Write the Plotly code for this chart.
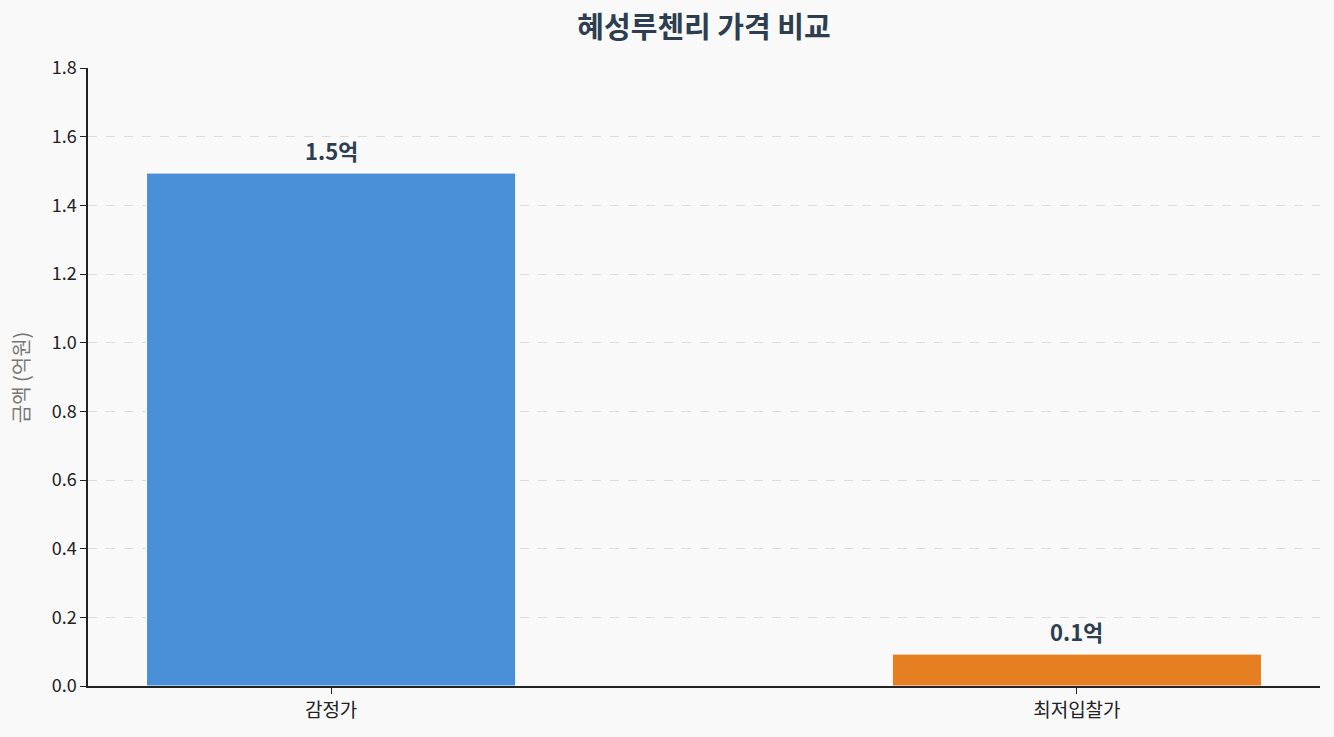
import plotly.graph_objects as go

categories = ["감정가", "최저입찰가"]
values = [1.494, 0.093]
labels = ["1.5억", "0.1억"]
colors = ["#4a90d9", "#e67e22"]
yticks = [0.0, 0.2, 0.4, 0.6, 0.8, 1.0, 1.2, 1.4, 1.6, 1.8]
y_title = "금액 (억원)"

FONT = "Noto Sans CJK KR"
BG = "#f9f9f9"

fig = go.Figure()
fig.add_trace(go.Bar(
    x=[0, 1], y=values, width=0.495,
    marker=dict(color=colors, line=dict(color="white", width=1)),
    hoverinfo="skip", showlegend=False,
))
for i, (v, t) in enumerate(zip(values, labels)):
    fig.add_annotation(x=i, y=v, text=f"<b>{t}</b>", showarrow=False,
                       yanchor="bottom", yshift=5,
                       font=dict(family=FONT, size=22, color="#2c3e50"))

fig.add_annotation(xref="paper", yref="paper", x=-0.0550, y=0.5,
                   text=y_title, textangle=-90, showarrow=False,
                   xanchor="center", yanchor="middle",
                   font=dict(family=FONT, size=20, color="#777777"))

fig.update_layout(
    width=1334, height=737,
    margin=dict(l=88, r=14, t=68, b=51),
    paper_bgcolor=BG, plot_bgcolor=BG,
    font=dict(family=FONT, size=16, color="#222222"),
    title=dict(text="<b>혜성루첸리 가격 비교</b>", x=0.5, xref="paper",
               xanchor="center", y=0.962, yanchor="middle",
               font=dict(family=FONT, size=29, color="#2c3e50")),
    xaxis=dict(range=[-0.326, 1.326], tickmode="array", tickvals=[0, 1],
               ticktext=categories, showgrid=False, zeroline=False,
               showline=True, linecolor="#222222", linewidth=1.5,
               ticks="outside", ticklen=6, tickcolor="#222222",
               tickfont=dict(size=19)),
    yaxis=dict(range=[0, 1.8], tickmode="array", tickvals=yticks,
               ticktext=[f"{v:.1f}" for v in yticks],
               showgrid=True, gridcolor="#dcdcdc", griddash="dash",
               gridwidth=1, zeroline=False,
               showline=True, linecolor="#222222", linewidth=1.5,
               ticks="outside", ticklen=6, tickcolor="#222222",
               tickfont=dict(size=18)),
)

post = ("document.body.style.margin='0';document.body.style.padding='0';"
        "document.body.style.background='%s';document.body.style.overflow='hidden';" % BG)
fig.write_html("out.html", post_script=post, config={"displayModeBar": False})
